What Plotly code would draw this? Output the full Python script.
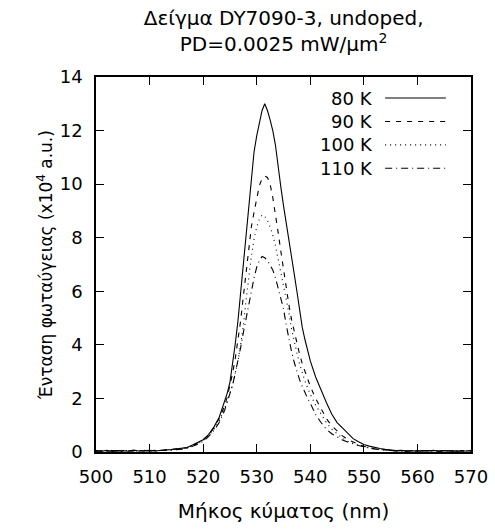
import plotly.graph_objects as go

# ---------------- data ----------------
wavelength = [
    500, 501, 502, 503, 504, 505, 506, 507, 508, 509, 510, 511, 512, 513, 514,
    515, 516, 517, 518, 519, 520, 521, 522, 523, 524,
    524.5, 525, 525.5, 526, 526.5, 527, 527.5, 528, 528.5, 529, 529.5, 530,
    530.5, 531, 531.5, 532, 532.5, 533, 533.5, 534, 534.5, 535, 535.5, 536,
    536.5, 537, 537.5, 538, 538.5, 539, 539.5, 540,
    541, 542, 543, 544, 545, 546, 547, 548, 549, 550, 551, 552, 553, 554, 555,
    556, 557, 558, 559, 560, 561, 562, 563, 564, 565, 566, 567, 568, 569, 570,
]

i_80K = [
    0.05, 0.03, 0.06, 0.02, 0.04, 0.05, 0.03, 0.07, 0.04, 0.05, 0.06, 0.04, 0.07, 0.08, 0.09,
    0.11, 0.13, 0.17, 0.26, 0.35, 0.46, 0.65, 0.93, 1.30, 1.85,
    2.20, 2.60, 3.25, 4.05, 4.90, 5.95, 7.10, 8.20, 9.30, 10.40, 11.20, 11.80,
    12.30, 12.75, 13.00, 12.75, 12.40, 12.00, 11.45, 10.60, 9.90, 9.20, 8.60, 7.95,
    7.30, 6.65, 6.00, 5.30, 4.65, 4.20, 3.75, 3.40,
    2.80, 2.30, 1.85, 1.42, 1.10, 0.90, 0.70, 0.50, 0.38, 0.28, 0.22, 0.17, 0.13, 0.10, 0.07,
    0.05, 0.06, 0.04, 0.05, 0.03, 0.05, 0.04, 0.06, 0.03, 0.05, 0.04, 0.05, 0.03, 0.04, 0.05,
]

i_90K = [
    0.04, 0.05, 0.03, 0.05, 0.06, 0.03, 0.05, 0.04, 0.06, 0.03, 0.05, 0.06, 0.05, 0.07, 0.08,
    0.10, 0.12, 0.16, 0.24, 0.33, 0.45, 0.63, 0.90, 1.25, 1.72,
    2.05, 2.45, 2.95, 3.50, 4.15, 4.90, 5.80, 6.75, 7.65, 8.40, 8.95, 9.50,
    9.95, 10.20, 10.30, 10.25, 10.00, 9.50, 8.90, 8.20, 7.50, 6.80, 6.10, 5.50,
    4.95, 4.50, 4.05, 3.65, 3.30, 3.00, 2.70, 2.45,
    2.00, 1.60, 1.25, 0.98, 0.78, 0.60, 0.47, 0.36, 0.28, 0.21, 0.16, 0.12, 0.10, 0.08, 0.06,
    0.04, 0.05, 0.03, 0.04, 0.05, 0.03, 0.05, 0.04, 0.03, 0.05, 0.04, 0.03, 0.05, 0.04, 0.03,
]

i_100K = [
    0.03, 0.05, 0.04, 0.06, 0.03, 0.04, 0.06, 0.03, 0.05, 0.04, 0.05, 0.03, 0.06, 0.06, 0.08,
    0.09, 0.11, 0.15, 0.22, 0.31, 0.43, 0.60, 0.85, 1.15, 1.60,
    1.88, 2.20, 2.50, 2.95, 3.40, 4.00, 4.70, 5.65, 6.60, 7.30, 7.95, 8.40,
    8.70, 8.85, 8.80, 8.65, 8.40, 8.10, 7.70, 7.20, 6.70, 6.20, 5.75, 5.20,
    4.60, 4.10, 3.70, 3.30, 2.95, 2.65, 2.40, 2.15,
    1.75, 1.40, 1.10, 0.85, 0.67, 0.52, 0.40, 0.32, 0.25, 0.20, 0.15, 0.11, 0.09, 0.07, 0.05,
    0.04, 0.03, 0.05, 0.04, 0.03, 0.04, 0.05, 0.03, 0.04, 0.03, 0.05, 0.04, 0.03, 0.04, 0.03,
]

i_110K = [
    0.04, 0.03, 0.05, 0.04, 0.05, 0.06, 0.04, 0.05, 0.03, 0.06, 0.04, 0.05, 0.05, 0.07, 0.07,
    0.09, 0.10, 0.14, 0.21, 0.29, 0.40, 0.57, 0.80, 1.10, 1.55,
    1.85, 2.15, 2.50, 2.95, 3.40, 3.90, 4.45, 5.00, 5.55, 6.05, 6.50, 6.90,
    7.15, 7.30, 7.25, 7.15, 7.00, 6.80, 6.50, 6.15, 5.80, 5.35, 4.75, 4.20,
    3.75, 3.35, 3.00, 2.70, 2.45, 2.20, 2.00, 1.82,
    1.40, 1.10, 0.85, 0.68, 0.55, 0.45, 0.37, 0.30, 0.24, 0.19, 0.14, 0.11, 0.09, 0.07, 0.05,
    0.04, 0.05, 0.03, 0.04, 0.03, 0.05, 0.04, 0.03, 0.04, 0.05, 0.03, 0.04, 0.03, 0.05, 0.04,
]

series_names = ["80 K", "90 K", "100 K", "110 K"]
series_values = [i_80K, i_90K, i_100K, i_110K]
series_dash = ["solid", "5px,6px", "1px,4px", "7px,4px,1px,4px"]

x_ticks = [500, 510, 520, 530, 540, 550, 560, 570]
y_ticks = [0, 2, 4, 6, 8, 10, 12, 14]

FONT = "DejaVu Sans"

fig = go.Figure()
for name, vals, dash in zip(series_names, series_values, series_dash):
    fig.add_trace(go.Scatter(
        x=wavelength, y=vals, mode="lines", name=name,
        line=dict(color="black", width=1.1, dash=dash),
        showlegend=False,
    ))

# gnuplot-style legend: right-aligned label, line sample to the right
leg_y0 = 0.944
leg_dy = 0.0625
for k, (name, dash) in enumerate(zip(series_names, series_dash)):
    yy = leg_y0 - k * leg_dy
    fig.add_annotation(
        x=0.745, y=yy, xref="paper", yref="paper", text=name,
        showarrow=False, xanchor="right", yanchor="middle",
        font=dict(family=FONT, size=18, color="black"),
    )
    fig.add_shape(
        type="line", xref="paper", yref="paper",
        x0=0.771, x1=0.933, y0=yy, y1=yy,
        line=dict(color="black", width=1.1, dash=dash),
    )

axis_common = dict(
    showline=True, linecolor="black", linewidth=1.5, mirror="ticks",
    ticks="inside", ticklen=8, tickwidth=1, tickcolor="black",
    showgrid=False, zeroline=False,
    tickfont=dict(family=FONT, size=18, color="black"),
)

fig.update_layout(
    width=495, height=529,
    margin=dict(l=96, r=24, t=77, b=77),
    paper_bgcolor="white", plot_bgcolor="white",
    font=dict(family=FONT, size=18, color="black"),
    title=dict(
        text="Δείγμα DY7090-3, undoped,<br>PD=0.0025 mW/μm<sup>2</sup>",
        x=0.5730, xanchor="center", xref="container",
        y=0.952, yanchor="top", yref="container",
        font=dict(family=FONT, size=20, color="black"),
    ),
    xaxis=dict(
        range=[500, 570], tickvals=x_ticks, ticktext=[str(v) for v in x_ticks],
        title=dict(text="Μήκος κύματος (nm)", standoff=18,
                   font=dict(family=FONT, size=20)),
        ticklabelstandoff=8,
        automargin=False,
        **axis_common,
    ),
    yaxis=dict(
        range=[0, 14], tickvals=y_ticks, ticktext=[str(v) for v in y_ticks],
        title=dict(text="Ένταση φωταύγειας (x10<sup>4</sup> a.u.)", standoff=3,
                   font=dict(family=FONT, size=17)),
        ticklabelstandoff=8,
        automargin=False,
        **axis_common,
    ),
)

fig.write_html(
    "out.html",
    config={"displayModeBar": False},
    post_script="document.body.style.margin='0';document.body.style.overflow='hidden';",
)
